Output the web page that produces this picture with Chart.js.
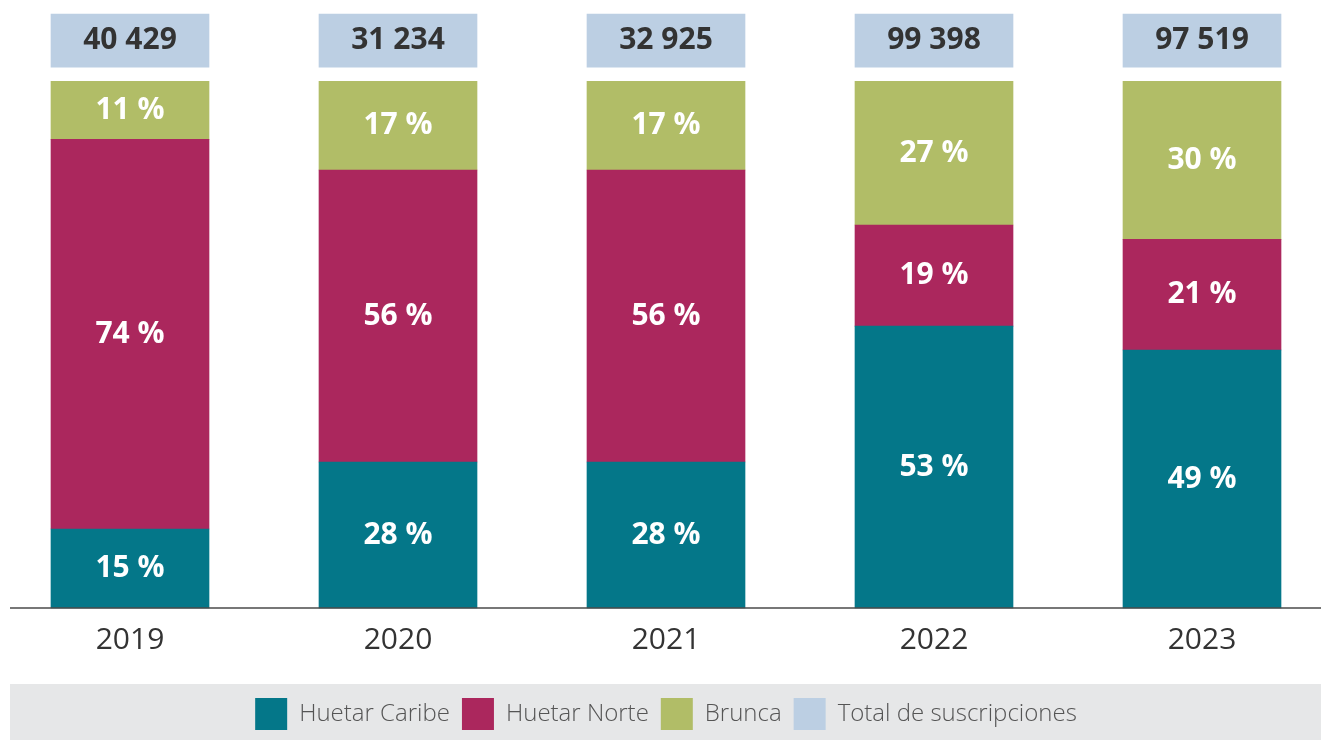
<!DOCTYPE html>
<html>
<head>
<meta charset="utf-8">
<script src="https://cdn.jsdelivr.net/npm/chart.js@4.4.1/dist/chart.umd.min.js"></script>
<style>
  html, body { margin: 0; padding: 0; background: #ffffff; }
  #wrap { width: 1321px; height: 740px; }
</style>
</head>
<body>
<div id="wrap"><canvas id="c" width="1321" height="740"></canvas></div>
<script>
// ---- data ----
const categories = ['2019', '2020', '2021', '2022', '2023'];
const huetarCaribe = [15, 28, 28, 53, 49];
const huetarNorte = [74, 56, 56, 19, 21];
const brunca = [11, 17, 17, 27, 30];
const totalSuscripciones = [40429, 31234, 32925, 99398, 97519];
const seriesNames = ['Huetar Caribe', 'Huetar Norte', 'Brunca', 'Total de suscripciones'];

// ---- styling / layout constants ----
const COLORS = ['#047789', '#AB275D', '#B1BD67', '#BCCFE3'];
const FONT = '"Open Sans", "Noto Sans", sans-serif';
const BOX_LO = 102.7;   // position of the total boxes on the percent axis
const BOX_HI = 112.8;

const sums = categories.map((_, i) => huetarCaribe[i] + huetarNorte[i] + brunca[i]);
const pct = (v, i) => v / sums[i] * 100;
const segCaribe = huetarCaribe.map((v, i) => [0, pct(v, i)]);
const segNorte = huetarNorte.map((v, i) => [pct(huetarCaribe[i], i), pct(huetarCaribe[i] + v, i)]);
const segBrunca = brunca.map((v, i) => [pct(huetarCaribe[i] + huetarNorte[i], i), pct(huetarCaribe[i] + huetarNorte[i] + v, i)]);
const segTotal = totalSuscripciones.map(() => [BOX_LO, BOX_HI]);

const fmtThousands = n => String(n).replace(/\B(?=(\d{3})+(?!\d))/g, ' ');

const datasets = [
  { label: seriesNames[0], data: segCaribe, backgroundColor: COLORS[0], valueText: huetarCaribe.map(v => v + ' %'), textColor: '#ffffff' },
  { label: seriesNames[1], data: segNorte, backgroundColor: COLORS[1], valueText: huetarNorte.map(v => v + ' %'), textColor: '#ffffff' },
  { label: seriesNames[2], data: segBrunca, backgroundColor: COLORS[2], valueText: brunca.map(v => v + ' %'), textColor: '#ffffff' },
  { label: seriesNames[3], data: segTotal, backgroundColor: COLORS[3], valueText: totalSuscripciones.map(fmtThousands), textColor: '#333333' }
].map(d => Object.assign(d, { grouped: false, barThickness: 158, borderWidth: 0, clip: false }));

const bgPlugin = {
  id: 'legendBg',
  beforeDraw(chart) {
    const ctx = chart.ctx, lg = chart.legend;
    ctx.save();
    ctx.fillStyle = '#E6E7E8';
    ctx.fillRect(10, lg.top - 2, 1311, lg.bottom - lg.top + 2);
    ctx.restore();
  }
};

const labelPlugin = {
  id: 'barLabels',
  afterDraw(chart) {
    const ctx = chart.ctx;
    ctx.save();
    ctx.textAlign = 'center';
    ctx.textBaseline = 'middle';
    ctx.font = 'bold 30px ' + FONT;
    chart.data.datasets.forEach((ds, di) => {
      const meta = chart.getDatasetMeta(di);
      meta.data.forEach((el, i) => {
        ctx.fillStyle = ds.textColor;
        ctx.fillText(ds.valueText[i], el.x, (el.y + el.base) / 2);
      });
    });
    // x axis baseline
    const y = chart.chartArea.bottom;
    ctx.strokeStyle = '#4a4a4a';
    ctx.lineWidth = 1.6;
    ctx.beginPath();
    ctx.moveTo(10, y);
    ctx.lineTo(1321, y);
    ctx.stroke();
    ctx.restore();
  }
};

new Chart(document.getElementById('c'), {
  type: 'bar',
  data: { labels: categories, datasets },
  options: {
    responsive: false,
    animation: false,
    events: [],
    layout: { padding: { left: 130, right: 119, top: 14, bottom: 0 } },
    scales: {
      x: {
        offset: false,
        grid: { display: false, drawTicks: false },
        border: { display: false },
        ticks: { color: '#333333', font: { family: FONT, size: 30 }, padding: 14 },
        afterFit(scale) { scale.height = 78; }
      },
      y: { display: false, min: 0, max: BOX_HI }
    },
    plugins: {
      tooltip: { enabled: false },
      legend: {
        position: 'bottom',
        labels: {
          boxWidth: 32, boxHeight: 32, padding: 12,
          color: '#555555',
          font: { family: FONT, size: 24, weight: 300 }
        }
      }
    }
  },
  plugins: [bgPlugin, labelPlugin]
});
</script>
</body>
</html>
